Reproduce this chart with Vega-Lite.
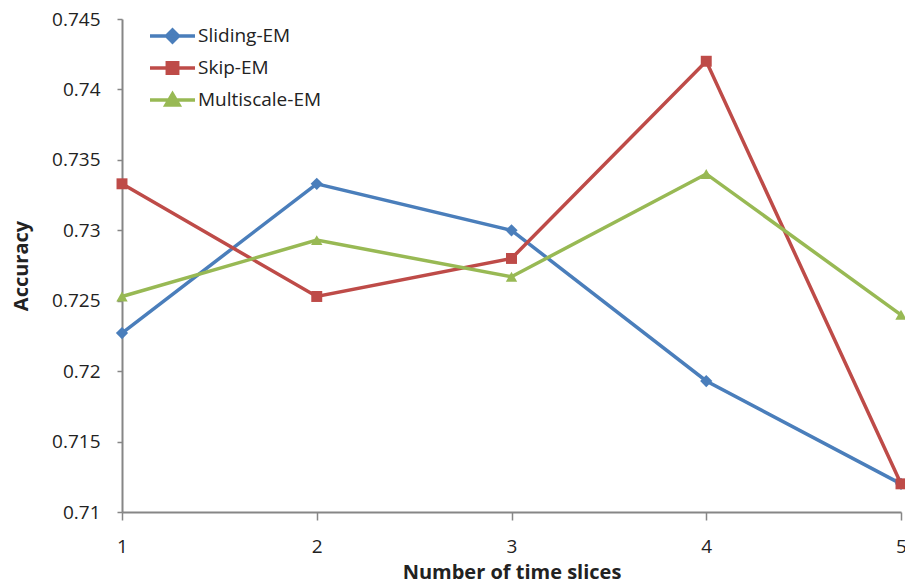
{
  "$schema": "https://vega.github.io/schema/vega-lite/v6.json",
  "width": 779,
  "height": 493,
  "autosize": {"type": "none"},
  "padding": {"left": 122, "top": 19, "right": 4, "bottom": 75},
  "background": "white",
  "config": {
    "view": {"stroke": null},
    "font": "Open Sans",
    "axis": {"grid": false, "domainColor": "#868686", "tickColor": "#868686", "domainWidth": 2, "tickWidth": 1.5, "labelColor": "#222", "titleColor": "#222", "labelFont": "Open Sans", "titleFont": "Open Sans"}
  },
  "data": {
    "values": [
      {"slices": 1, "series": "Sliding-EM", "accuracy": 0.7227},
      {"slices": 2, "series": "Sliding-EM", "accuracy": 0.7333},
      {"slices": 3, "series": "Sliding-EM", "accuracy": 0.73},
      {"slices": 4, "series": "Sliding-EM", "accuracy": 0.7193},
      {"slices": 5, "series": "Sliding-EM", "accuracy": 0.712},
      {"slices": 1, "series": "Skip-EM", "accuracy": 0.7333},
      {"slices": 2, "series": "Skip-EM", "accuracy": 0.7253},
      {"slices": 3, "series": "Skip-EM", "accuracy": 0.728},
      {"slices": 4, "series": "Skip-EM", "accuracy": 0.742},
      {"slices": 5, "series": "Skip-EM", "accuracy": 0.712},
      {"slices": 1, "series": "Multiscale-EM", "accuracy": 0.7253},
      {"slices": 2, "series": "Multiscale-EM", "accuracy": 0.7293},
      {"slices": 3, "series": "Multiscale-EM", "accuracy": 0.7267},
      {"slices": 4, "series": "Multiscale-EM", "accuracy": 0.734},
      {"slices": 5, "series": "Multiscale-EM", "accuracy": 0.724}
    ]
  },
  "encoding": {
    "x": {
      "field": "slices", "type": "quantitative",
      "scale": {"domain": [1, 5], "nice": false, "zero": false},
      "axis": {"values": [1, 2, 3, 4, 5], "format": "d", "title": "Number of time slices", "tickSize": 8, "labelPadding": 17, "labelFontSize": 19, "titleFontSize": 20, "titleFontWeight": "bold", "titlePadding": 6, "labelFlush": false}
    },
    "y": {
      "field": "accuracy", "type": "quantitative",
      "scale": {"domain": [0.71, 0.745], "nice": false, "zero": false},
      "axis": {"values": [0.71, 0.715, 0.72, 0.725, 0.73, 0.735, 0.74, 0.745], "format": ".3~f", "title": "Accuracy", "tickSize": 5, "labelPadding": 17, "labelFontSize": 19, "titleFontSize": 20, "titleFontWeight": "bold", "titlePadding": 20, "labelFlush": false}
    },
    "color": {
      "field": "series", "type": "nominal",
      "scale": {"domain": ["Sliding-EM", "Skip-EM", "Multiscale-EM"], "range": ["#4A7EBB", "#BE4B48", "#98B954"]},
      "legend": {
        "title": null,
        "orient": "none",
        "legendX": 38.5,
        "legendY": 5,
        "padding": 0,
        "labelFontSize": 19,
        "labelFont": "Open Sans",
        "labelColor": "#222",
        "symbolSize": 400,
        "rowPadding": 6,
        "labelOffset": 13.5,
        "symbolType": "M-1,0H1",
        "encode": {
          "symbols": {
            "update": {
              "shape": {"signal": "datum.value === 'Sliding-EM' ? 'M-2.25,0H2.25M0,-0.6L0.6,0L0,0.6L-0.6,0Z' : datum.value === 'Skip-EM' ? 'M-2.25,0H2.25M-0.52,-0.52H0.52V0.52H-0.52Z' : 'M-2.25,0H2.25M0,-0.6L0.65,0.5H-0.65Z'"},
              "strokeWidth": {"value": 3.5},
              "fill": {"signal": "scale('color', datum.value)"},
              "fillOpacity": {"value": 1},
              "opacity": {"value": 1}
            }
          }
        }
      }
    }
  },
  "layer": [
    {
      "mark": {"type": "line", "strokeWidth": 3.5}
    },
    {
      "transform": [{"filter": "datum.series === 'Sliding-EM'"}],
      "mark": {"type": "point", "shape": "diamond", "filled": true, "size": 150, "opacity": 1}
    },
    {
      "transform": [{"filter": "datum.series === 'Skip-EM'"}],
      "mark": {"type": "point", "shape": "square", "filled": true, "size": 120, "opacity": 1}
    },
    {
      "transform": [{"filter": "datum.series === 'Multiscale-EM'"}],
      "mark": {"type": "point", "shape": "triangle-up", "filled": true, "size": 130, "opacity": 1}
    }
  ]
}
